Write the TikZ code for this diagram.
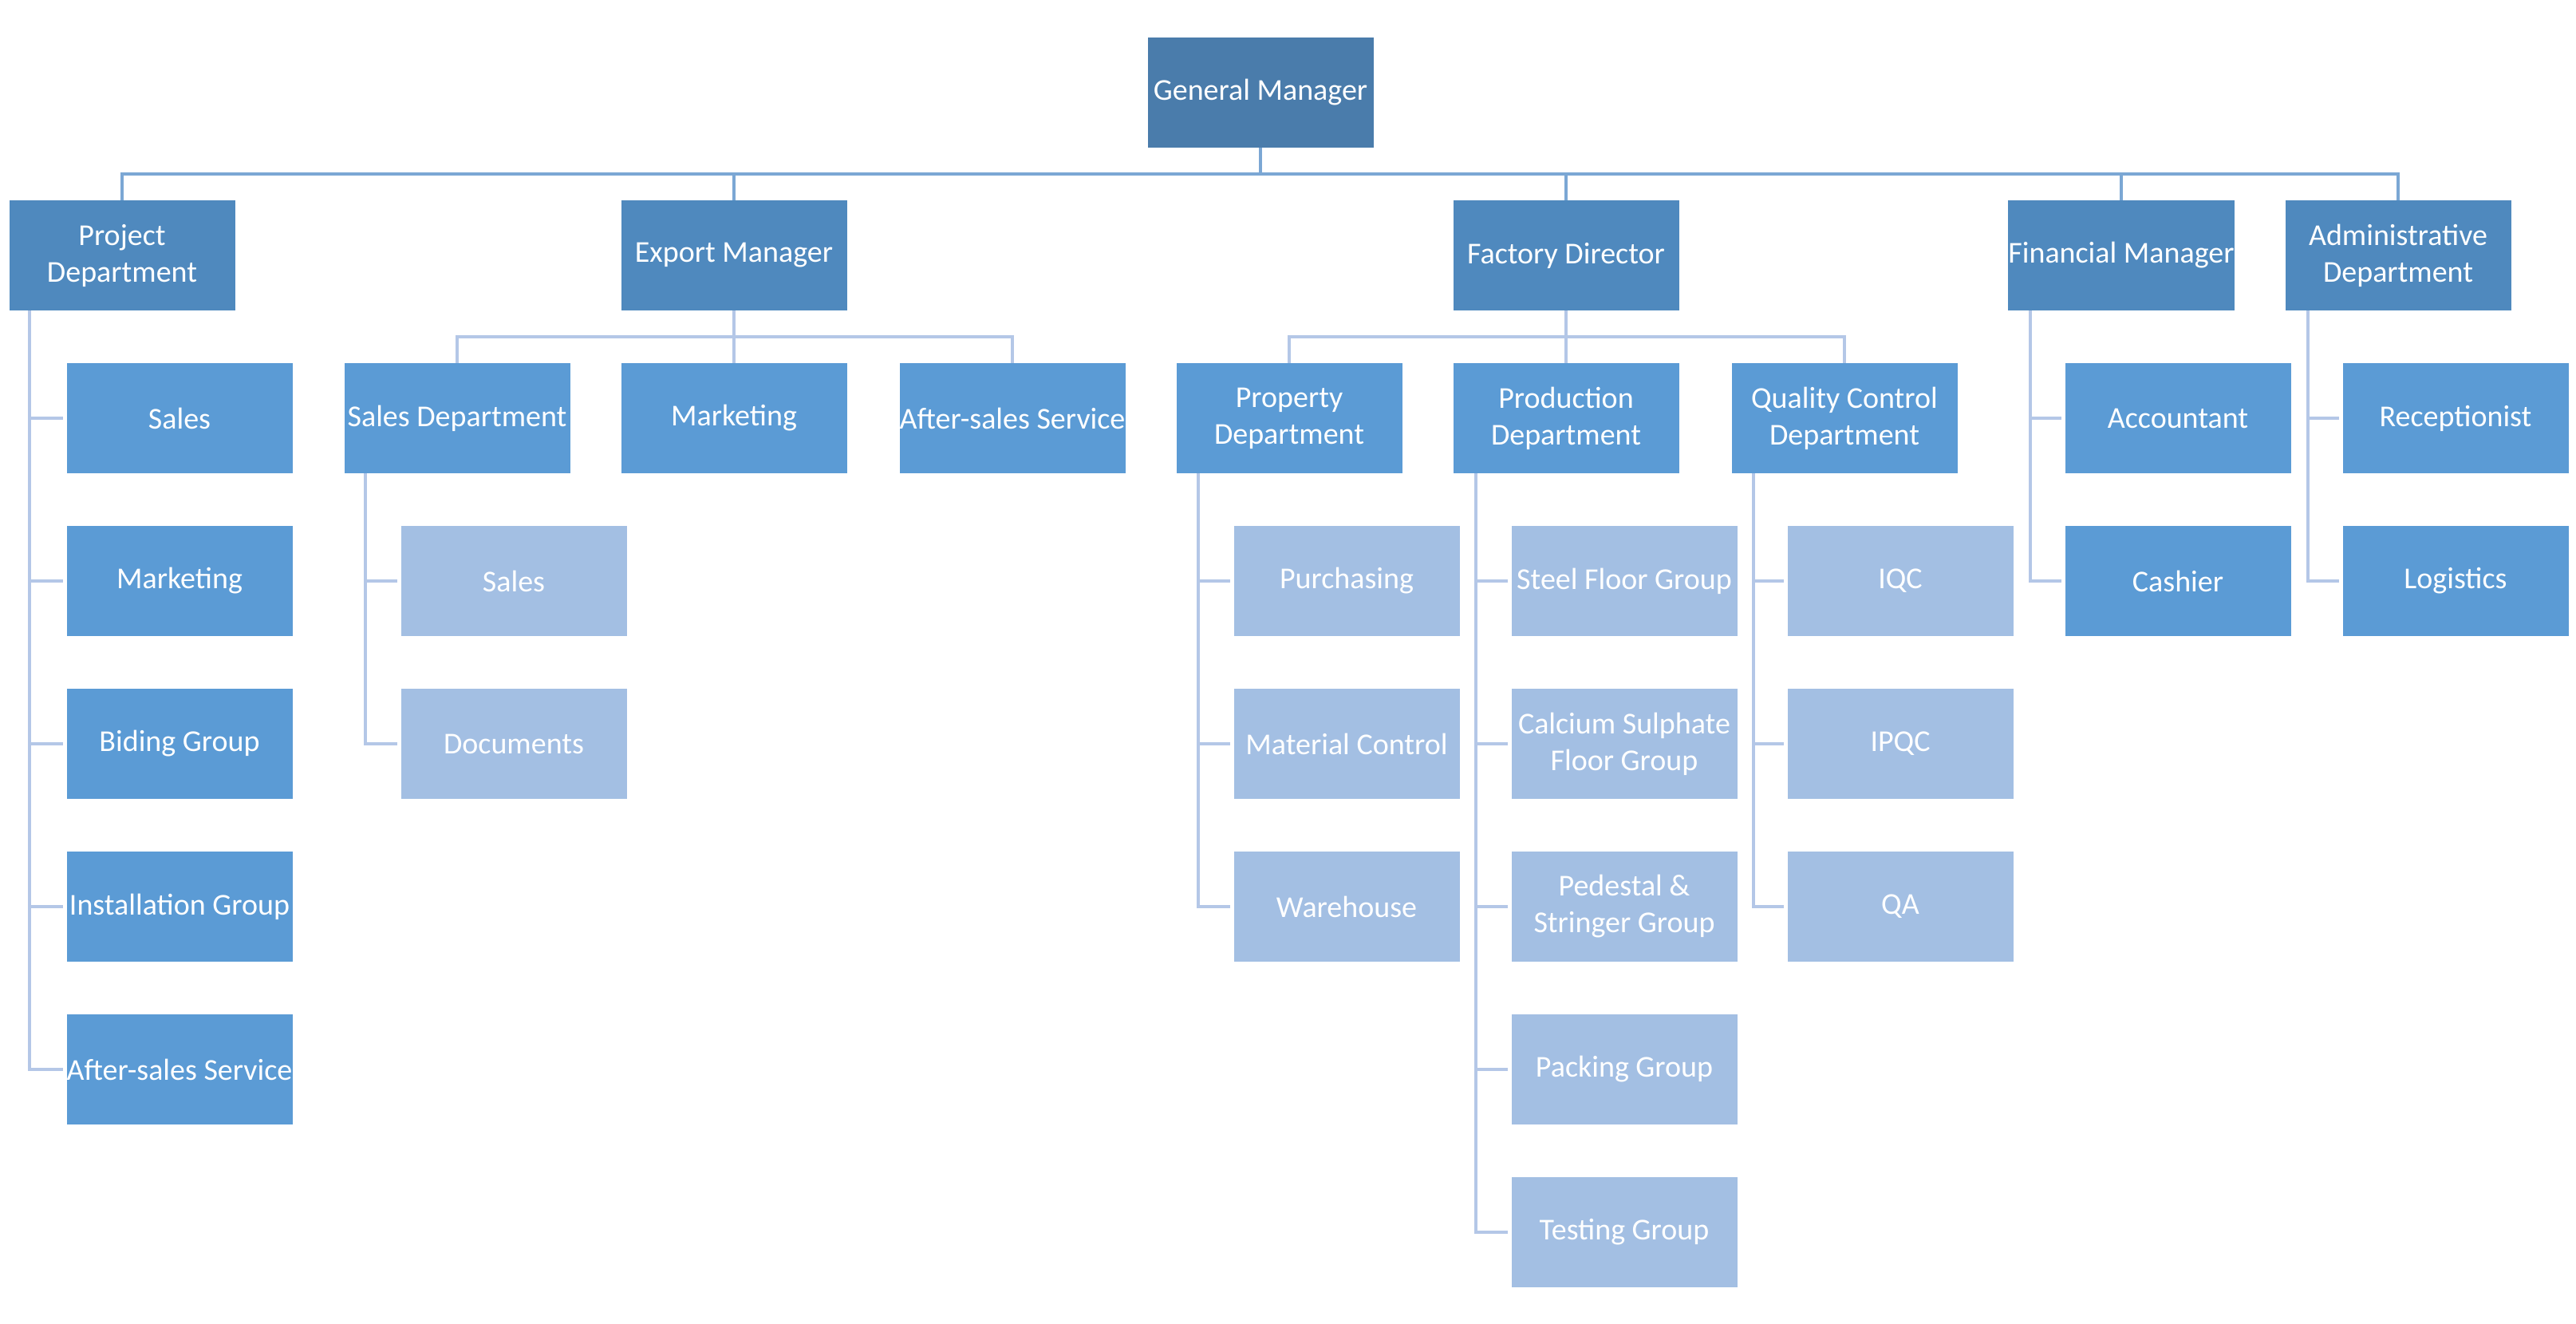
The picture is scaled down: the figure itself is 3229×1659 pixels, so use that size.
\documentclass[tikz,border=0pt]{standalone}
\usepackage{fontspec}
\setmainfont{Carlito}
\definecolor{gmblue}{HTML}{4A7CAB}
\definecolor{deptblue}{HTML}{4F89BE}
\definecolor{unitblue}{HTML}{5B9BD5}
\definecolor{teamblue}{HTML}{A3BFE3}
\definecolor{busblue}{HTML}{7BA7D4}
\definecolor{linkblue}{HTML}{B4C7E7}

\begin{document}
\begin{tikzpicture}[x=1pt,y=-1pt,
  box/.style={rectangle,minimum width=283pt,minimum height=138pt,inner sep=0pt,
    align=center,text=white,font=\fontsize{38}{46}\selectfont},
  gmbox/.style={box,fill=gmblue},
  deptbox/.style={box,fill=deptblue},
  unitbox/.style={box,fill=unitblue},
  teambox/.style={box,fill=teamblue},
  busline/.style={draw=busblue,line width=4pt},
  linkline/.style={draw=linkblue,line width=4pt,shorten >=4pt}]
\useasboundingbox (0,0) rectangle (3229,1659);
% top
\node[gmbox] (gm) at (1580,116) {General Manager};
\node[deptbox] (proj) at (153,320) {Project\\Department};
\node[deptbox] (expm) at (920,320) {Export Manager};
\node[deptbox] (fdir) at (1963,320) {Factory Director};
\node[deptbox] (finm) at (2659,320) {Financial Manager};
\node[deptbox] (adm) at (3006,320) {Administrative\\Department};
\coordinate (busa) at (0,218);
\foreach \d in {proj,expm,fdir,finm,adm}
  \draw[busline] (gm.south) -- (gm.south |- busa) -| (\d.north);
% export manager
\node[unitbox] (salesdep) at (573,524) {Sales Department};
\node[unitbox] (exmark) at (920,524) {Marketing};
\node[unitbox] (exafter) at (1269,524) {After-sales Service};
\coordinate (busb) at (0,422);
\foreach \d in {salesdep,exmark,exafter}
  \draw[linkline,shorten >=0pt] (expm.south) -- (expm.south |- busb) -| (\d.north);
% factory director
\node[unitbox] (propdep) at (1616,524) {Property\\Department};
\node[unitbox] (proddep) at (1963,524) {Production\\Department};
\node[unitbox] (qcdep) at (2312,524) {Quality Control\\Department};
\foreach \d in {propdep,proddep,qcdep}
  \draw[linkline,shorten >=0pt] (fdir.south) -- (fdir.south |- busb) -| (\d.north);
% project department
\coordinate (projspine) at ([xshift=26]proj.south west);
\foreach \n/\t [count=\i] in {psales/Sales,pmark/Marketing,pbid/Biding Group,
    pinst/Installation Group,pafter/After-sales Service}{
  \node[unitbox] (\n) at (225,{320+204*\i}) {\t};
  \draw[linkline] (projspine) |- (\n.west);
}
% sales department
\coordinate (salesspine) at ([xshift=27]salesdep.south west);
\foreach \n/\t [count=\i] in {ssales/Sales,sdocs/Documents}{
  \node[teambox] (\n) at (644,{524+204*\i}) {\t};
  \draw[linkline] (salesspine) |- (\n.west);
}
% property department
\coordinate (propspine) at ([xshift=28]propdep.south west);
\foreach \n/\t [count=\i] in {purch/Purchasing,matc/Material Control,wareh/Warehouse}{
  \node[teambox] (\n) at (1688,{524+204*\i}) {\t};
  \draw[linkline] (propspine) |- (\n.west);
}
% production department
\coordinate (prodspine) at ([xshift=29]proddep.south west);
\foreach \n/\t [count=\i] in {steel/Steel Floor Group,calc/{Calcium Sulphate\\Floor Group},
    pedes/{Pedestal \&\\Stringer Group},pack/Packing Group,test/Testing Group}{
  \node[teambox] (\n) at (2036,{524+204*\i}) {\t};
  \draw[linkline] (prodspine) |- (\n.west);
}
% quality control
\coordinate (qcspine) at ([xshift=28]qcdep.south west);
\foreach \n/\t [count=\i] in {iqc/IQC,ipqc/IPQC,qa/QA}{
  \node[teambox] (\n) at (2382,{524+204*\i}) {\t};
  \draw[linkline] (qcspine) |- (\n.west);
}
% financial manager
\coordinate (finspine) at ([xshift=28]finm.south west);
\foreach \n/\t [count=\i] in {acct/Accountant,cash/Cashier}{
  \node[unitbox] (\n) at (2730,{320+204*\i}) {\t};
  \draw[linkline] (finspine) |- (\n.west);
}
% administrative department
\coordinate (admspine) at ([xshift=29]adm.south west);
\foreach \n/\t [count=\i] in {recep/Receptionist,logi/Logistics}{
  \node[unitbox] (\n) at (3078,{320+204*\i}) {\t};
  \draw[linkline] (admspine) |- (\n.west);
}
\end{tikzpicture}
\end{document}
